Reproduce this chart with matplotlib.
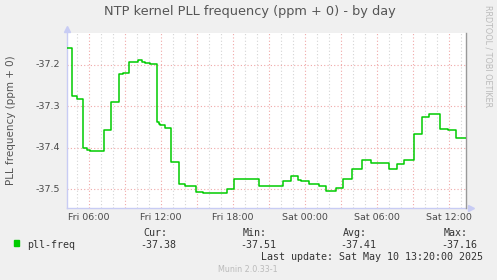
import matplotlib
matplotlib.use('Agg')
import matplotlib.pyplot as plt
import matplotlib.transforms as mtransforms

# hours since Fri 00:00 where the value changes, and the value from there on
step_hours = [4.14, 4.56, 4.98, 5.48, 5.81, 6.08, 7.23, 7.83, 8.48, 8.81,
              9.33, 10.11, 10.39, 10.67, 11.08, 11.67, 11.81, 11.94, 12.33, 12.86,
              13.48, 14.0, 14.89, 15.53, 17.53, 18.08, 20.19, 22.14, 22.83, 23.42,
              23.64, 24.31, 25.14, 25.75, 26.61, 27.19, 27.89, 28.75, 29.53, 31.03,
              31.67, 32.28, 33.11, 33.75, 34.36, 35.22, 35.94, 36.58, 37.42]
pll_freq = [-37.160, -37.274, -37.281, -37.401, -37.405, -37.408, -37.357, -37.290, -37.222, -37.219,
            -37.192, -37.189, -37.192, -37.194, -37.198, -37.337, -37.343, -37.346, -37.351, -37.435,
            -37.488, -37.491, -37.507, -37.510, -37.499, -37.476, -37.491, -37.479, -37.468, -37.477,
            -37.479, -37.487, -37.491, -37.504, -37.497, -37.476, -37.452, -37.430, -37.437, -37.452,
            -37.440, -37.429, -37.367, -37.325, -37.319, -37.355, -37.358, -37.377, -37.377]

xtick_hours = [6, 12, 18, 24, 30, 36]
xtick_labels = ['Fri 06:00', 'Fri 12:00', 'Fri 18:00', 'Sat 00:00', 'Sat 06:00', 'Sat 12:00']
ytick_values = [-37.2, -37.3, -37.4, -37.5]

legend_cols = ['Cur:', 'Min:', 'Avg:', 'Max:']
legend_vals = ['-37.38', '-37.51', '-37.41', '-37.16']

W, H = 497, 280
bg = '#F0F0F0'
txt = '#4a4a4a'
axis_col = '#C8CCF4'

fig = plt.figure(figsize=(W / 100, H / 100), dpi=100, facecolor=bg)
ax = fig.add_axes([67 / W, (H - 207.5) / H, 399 / W, 175 / H])
ax.set_facecolor('white')
ax.set_xlim(4.167, 37.417)
ax.set_ylim(-37.5439, -37.1216)

# grid: hourly grey, 3-hourly red
for h in range(5, 38):
    col = '#F0A8A8' if h % 3 == 0 else '#D4D4D4'
    ax.axvline(h, color=col, lw=0.8, ls=(0, (1, 2)), zorder=1)
for v in ytick_values:
    ax.axhline(v, color='#F0A8A8', lw=0.8, ls=(0, (1, 2)), zorder=1)

ax.plot(step_hours, pll_freq, drawstyle='steps-post', color='#00CC00', lw=1.1, zorder=3)

for s in ax.spines.values():
    s.set_visible(False)
ax.plot([0, 0], [0, 1.0], transform=ax.transAxes, color=axis_col, lw=1, clip_on=False)
ax.plot([0, 1.0], [0, 0], transform=ax.transAxes, color=axis_col, lw=1, clip_on=False)
ax.plot([1, 1], [0, 1], transform=ax.transAxes, color='#999999', lw=1, clip_on=False)
ax.plot([0], [1.02], transform=ax.transAxes, marker='^', ms=4, color=axis_col, clip_on=False)
ax.plot([1.012], [0], transform=ax.transAxes, marker='>', ms=4, color=axis_col, clip_on=False)

ax.set_xticks(xtick_hours)
ax.set_xticklabels(xtick_labels)
ax.set_yticks(ytick_values)
ax.tick_params(length=0, labelsize=6.8, labelcolor=txt, labelleft=False)
ax.tick_params(axis='x', pad=4)

# y tick labels placed explicitly, right edge ~7px left of the axis
ylab_tr = mtransforms.blended_transform_factory(ax.transAxes, ax.transData)
for v in ytick_values:
    ax.text(-7 / 399, v, '%.1f' % v, transform=ylab_tr, ha='right', va='center',
            fontsize=6.8, color=txt, clip_on=False)

fig.text(250 / W, 1 - 12 / H, 'NTP kernel PLL frequency (ppm + 0) - by day',
         ha='center', va='center', fontsize=9.3, color='#555555')
fig.text(11 / W, 1 - 120 / H, 'PLL frequency (ppm + 0)', rotation=90,
         ha='center', va='center', fontsize=7.5, color='#555555')
fig.text(488 / W, 1 - 5 / H, 'RRDTOOL / TOBI OETIKER', rotation=270,
         ha='center', va='top', fontsize=5.8, color='#BBBBBB')

mono = 'DejaVu Sans Mono'
fig.patches.append(plt.Rectangle((14 / W, 1 - 246 / H), 5 / W, 6 / H,
                                 transform=fig.transFigure, color='#00CC00'))
fig.text(27 / W, 1 - 245 / H, 'pll-freq', family=mono, fontsize=7.2, color='#333333', va='center')
col_right = [176, 276, 376, 477]
for r, head, val in zip(col_right, legend_cols, legend_vals):
    fig.text((r - 9) / W, 1 - 233 / H, head, family=mono, fontsize=7.2, color='#333333',
             va='center', ha='right')
    fig.text(r / W, 1 - 245 / H, val, family=mono, fontsize=7.2, color='#333333',
             va='center', ha='right')
fig.text(483 / W, 1 - 257 / H, 'Last update: Sat May 10 13:20:00 2025', family=mono,
         fontsize=7.2, color='#333333', va='center', ha='right')
fig.text(248 / W, 1 - 269 / H, 'Munin 2.0.33-1', family='DejaVu Sans', fontsize=5.8,
         color='#BBBBBB', va='center', ha='center')

fig.savefig('out.png', dpi=100, facecolor=bg)
